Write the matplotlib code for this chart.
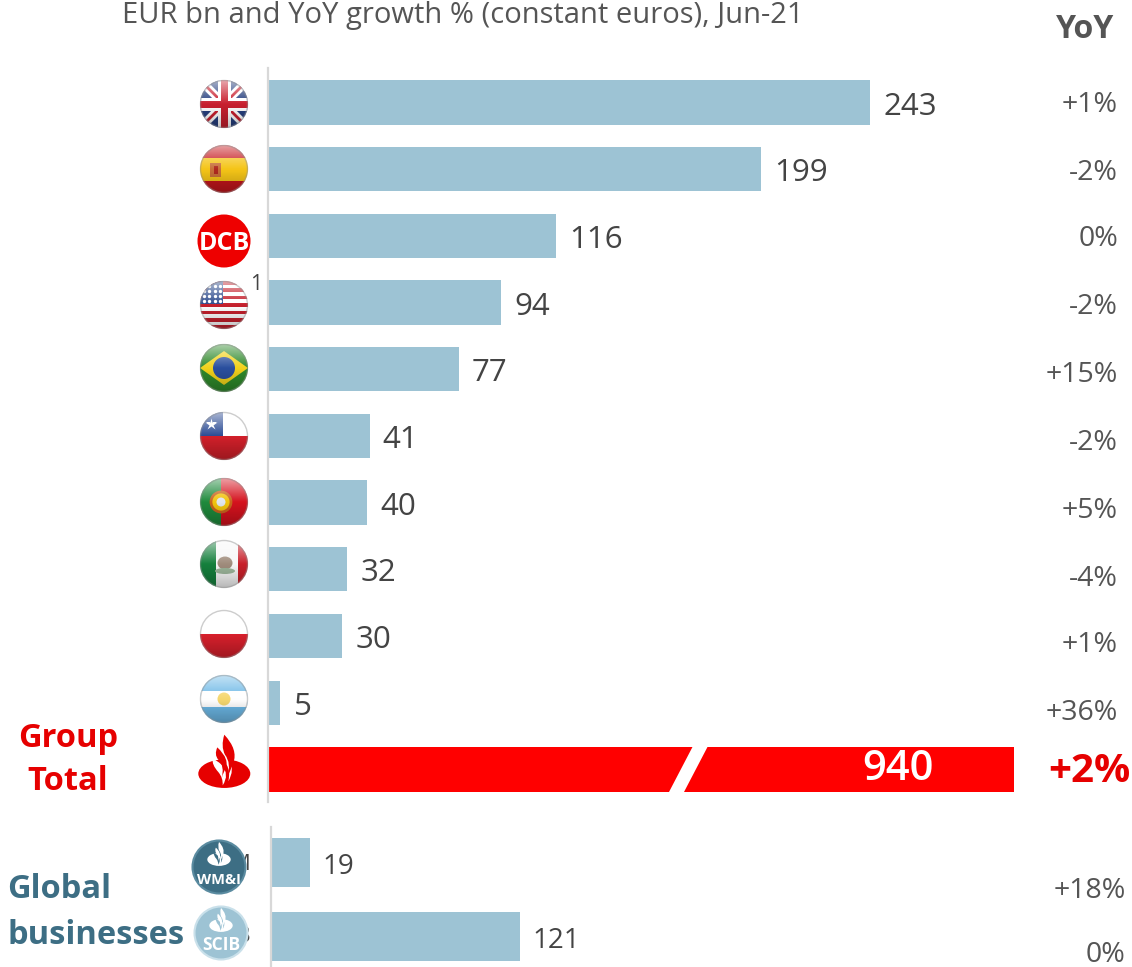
import numpy as np
import matplotlib
matplotlib.use('Agg')
import matplotlib.pyplot as plt
from matplotlib.patches import Circle, Ellipse, Polygon, Rectangle, PathPatch
from matplotlib.path import Path

W, H = 1132, 967

# Loan book by unit, EUR bn.
COUNTRY_VALUES = [243, 199, 116, 94, 77, 41, 40, 32, 30, 5]
COUNTRY_YOY = ['+1%', '-2%', '0%', '-2%', '+15%', '-2%', '+5%', '-4%', '+1%', '+36%']
TOTAL_VALUE = 940
TOTAL_YOY = '+2%'
GLOBAL_VALUES = [19, 121]
GLOBAL_YOY = ['+18%', '0%']

BLUE = '#9dc3d4'
RED = '#ff0000'
DARK_RED = '#e60000'
TEAL = '#3d6e84'
TEXT = '#444444'
GREY = '#d8d8d8'

plt.rcParams['font.family'] = ['Open Sans', 'DejaVu Sans']

fig = plt.figure(figsize=(W / 100, H / 100), dpi=100)


def px_axes(left, top, right, bottom):
    return fig.add_axes([left / W, 1 - bottom / H, (right - left) / W, (bottom - top) / H])


def style_bars(ax):
    for side in ['top', 'right', 'bottom']:
        ax.spines[side].set_visible(False)
    ax.spines['left'].set_color(GREY)
    ax.spines['left'].set_linewidth(1.6)
    ax.set_xticks([])
    ax.set_yticks([])
    ax.patch.set_alpha(0)


# Country bars plus the group total, which runs off the end of the scale.
ax = px_axes(268, 68, 1014, 802)
ax.set_xlim(0, 746 / 2.479)
ax.set_ylim((802 - 102.4) / 66.7, (68 - 102.4) / 66.7)
rows = np.arange(len(COUNTRY_VALUES))
ax.barh(rows, COUNTRY_VALUES, height=0.665, color=BLUE)
ax.barh([len(COUNTRY_VALUES)], [TOTAL_VALUE], height=0.665, color=RED)
style_bars(ax)
for r, v in zip(rows, COUNTRY_VALUES):
    ax.annotate(str(v), (v, r), xytext=(9.5, -3), textcoords='offset points',
                va='center', ha='left', fontsize=22.5, color=TEXT)

# Global businesses use their own, slightly tighter scale.
ax2 = px_axes(271, 827, 1014, 967)
ax2.set_xlim(0, 743 / 2.06)
ax2.set_ylim((967 - 862.5) / 74, (827 - 862.5) / 74)
ax2.barh([0, 1], GLOBAL_VALUES, height=0.665, color=BLUE)
style_bars(ax2)
for r, v in zip([0, 1], GLOBAL_VALUES):
    ax2.annotate(str(v), (v, r), xytext=(8.5, -3), textcoords='offset points',
                 va='center', ha='left', fontsize=20, color=TEXT)

# Overlay in pixel units for the icons and surrounding text.
ov = fig.add_axes([0, 0, 1, 1], zorder=5)
ov.set_xlim(0, W)
ov.set_ylim(H, 0)
ov.axis('off')
ov.patch.set_alpha(0)

# Gradient for the glass effect on the round flags.
gy = np.linspace(0, 1, 64)
gloss = np.zeros((64, 1, 4))
gloss[:, 0, :3] = np.where(gy[:, None] < 0.5, 1.0, 0.0)
gloss[:, 0, 3] = np.where(gy < 0.5, 0.6 * (1 - gy / 0.5), 0.26 * (gy - 0.5) / 0.5)


def flag(cx, cy, draw, r=24):
    clip = Circle((cx, cy), r, transform=ov.transData)
    before = set(ov.get_children())
    draw(cx, cy, r)
    for art in set(ov.get_children()) - before:
        art.set_clip_path(clip)
    im = ov.imshow(gloss, extent=(cx - r, cx + r, cy + r, cy - r), aspect='auto',
                   zorder=3, interpolation='bilinear')
    im.set_clip_path(clip)
    ov.add_patch(Circle((cx, cy), r - 0.5, fill=False, ec='#909090', lw=1.0, alpha=0.45, zorder=4))


def band(x0, y0, x1, y1, color, z=2):
    ov.add_patch(Rectangle((x0, y0), x1 - x0, y1 - y0, fc=color, ec='none', zorder=z))


def uk(cx, cy, r):
    band(cx - r, cy - r, cx + r, cy + r, '#27407f')
    for sx in (-1, 1):
        ov.plot([cx - r * sx, cx + r * sx], [cy - r, cy + r], color='white', lw=6, zorder=2)
        ov.plot([cx - r * sx, cx + r * sx], [cy - r, cy + r], color='#c8202f', lw=2, zorder=2)
    band(cx - r, cy - 6.5, cx + r, cy + 6.5, 'white')
    band(cx - 6.5, cy - r, cx + 6.5, cy + r, 'white')
    band(cx - r, cy - 3.5, cx + r, cy + 3.5, '#c8202f')
    band(cx - 3.5, cy - r, cx + 3.5, cy + r, '#c8202f')


def spain(cx, cy, r):
    band(cx - r, cy - r, cx + r, cy - 11, '#c4161c')
    band(cx - r, cy - 11, cx + r, cy + 12, '#f5c518')
    band(cx - r, cy + 12, cx + r, cy + r, '#c4161c')
    band(cx - 14, cy - 6, cx - 3, cy + 8, '#c8703a')
    band(cx - 10, cy - 3, cx - 6, cy + 5, '#b02a20')


def usa(cx, cy, r):
    band(cx - r, cy - r, cx + r, cy + r, 'white')
    for k in range(0, 7):
        band(cx - r, cy - r + k * 7.4, cx + r, cy - r + k * 7.4 + 3.7, '#c5202c')
    band(cx - r, cy - r, cx - 1, cy - 1, '#2c4a8c')
    for i in range(4):
        for j in range(4):
            ov.plot(cx - 20 + i * 5.4, cy - 19 + j * 5, 'o', ms=1.4, color='white', zorder=2)


def brazil(cx, cy, r):
    band(cx - r, cy - r, cx + r, cy + r, '#2f8a2b')
    ov.add_patch(Polygon([(cx - r, cy), (cx, cy - 17), (cx + r, cy), (cx, cy + 17)],
                         fc='#f2d21b', ec='none', zorder=2))
    ov.add_patch(Circle((cx, cy), 11, fc='#2a4f9e', ec='none', zorder=2))


def chile(cx, cy, r):
    band(cx - r, cy - r, cx + r, cy, 'white')
    band(cx - r, cy, cx + r, cy + r, '#d2202a')
    band(cx - r, cy - r, cx - 1, cy, '#2b4b94')
    ov.plot(cx - 13, cy - 12, '*', ms=9, color='white', mec='none', zorder=2)


def portugal(cx, cy, r):
    band(cx - r, cy - r, cx - 3, cy + r, '#1f8a3c')
    band(cx - 3, cy - r, cx + r, cy + r, '#d5121e')
    ov.add_patch(Circle((cx - 3, cy), 10, fc='#f1c40f', ec='#c8641e', lw=2, zorder=2))
    ov.add_patch(Circle((cx - 3, cy), 4.5, fc='#dfe6f0', ec='none', zorder=2))


def mexico(cx, cy, r):
    band(cx - r, cy - r, cx - 8, cy + r, '#15803d')
    band(cx - 8, cy - r, cx + 14, cy + r, '#f7f7f7')
    band(cx + 14, cy - r, cx + r, cy + r, '#c8202a')
    ov.add_patch(Ellipse((cx + 1, cy - 1), 15, 13, fc='#a08c7c', ec='none', zorder=2))
    ov.add_patch(Ellipse((cx + 1, cy + 7), 20, 6, fc='#9cb59a', ec='none', zorder=2))


def poland(cx, cy, r):
    band(cx - r, cy - r, cx + r, cy, 'white')
    band(cx - r, cy, cx + r, cy + r, '#d8202c')


def argentina(cx, cy, r):
    band(cx - r, cy - r, cx + r, cy + r, '#6cb8e6')
    band(cx - r, cy - 8, cx + r, cy + 8, 'white')
    ov.add_patch(Circle((cx, cy), 6.5, fc='#f5d76e', ec='none', zorder=2))


flag(224, 104, uk)
flag(224, 169, spain)
flag(224, 305, usa)
flag(224, 368, brazil)
flag(224, 436, chile)
flag(224, 502, portugal)
flag(224, 564, mexico)
flag(224, 634, poland)
flag(224, 699, argentina)

# DCB badge.
ov.add_patch(Circle((224, 241), 26.5, fc='#ee0000', ec='none', zorder=2))
ov.text(224, 243.5, 'DCB', color='white', fontsize=18, fontweight='bold', ha='center', va='center', zorder=3)
ov.text(256.5, 284, '1', color=TEXT, fontsize=15, ha='center', va='center')

# Flame emblem outlines, in units of a third of a pixel around the base centre.
CURVE = [Path.MOVETO] + [Path.CURVE3] * 8
TONGUE_A = [(0, -117), (42, -72), (27, -32), (19, -12), (9, 13), (22, -32), (2, -57), (-11, -82), (0, -117)]
TONGUE_B = [(-21, -79), (19, -42), (2, -12), (-5, 3), (-8, 13), (2, -22), (-18, -42), (-31, -57), (-21, -79)]
GAP_A = [(-35, -45), (-38, -27), (-18, -5), (-3, 13), (-5, 35), (17, 3), (-8, -27), (-25, -42), (-35, -45)]
GAP_B = [(-8, -67), (-13, -47), (7, -27), (19, -7), (12, 23), (32, -12), (15, -39), (-3, -57), (-8, -67)]


def emblem(cx, cy, s, color, back):
    ov.add_patch(Ellipse((cx, cy), 52 * s, 28.5 * s, fc=color, ec='none', zorder=6))
    for outline, fill, z in [(GAP_A, back, 7), (GAP_B, back, 7), (TONGUE_A, color, 8), (TONGUE_B, color, 8)]:
        pts = [(cx + x / 3 * s, cy + y / 3 * s) for x, y in outline]
        ov.add_patch(PathPatch(Path(pts, CURVE), fc=fill, ec='none', zorder=z))


emblem(224.3, 773.7, 1.0, '#e60000', 'white')

# Names partly hidden behind the global business badges.
ov.text(250.5, 865, 'M', color=TEXT, fontsize=15, ha='right', va='center', zorder=1)
ov.text(250.5, 936, 'B', color=TEXT, fontsize=15, ha='right', va='center', zorder=1)


def badge(cx, cy, r, fill, edge, label, size, label_y):
    ov.add_patch(Circle((cx, cy), r, fc=fill, ec=edge, lw=1.5, zorder=5))
    emblem(cx, cy - 7.5, 0.45, 'white', fill)
    ov.text(cx, label_y, label, color='white', fontsize=size, fontweight='bold',
            ha='center', va='center', zorder=9)


badge(219, 867, 26.5, TEAL, '#5a8ba0', 'WM&I', 10.5, 880)
badge(221, 933, 26.5, '#9dc3d4', '#c9e0ea', 'SCIB', 12.5, 945.5)

# White slash marking the broken total bar.
ov.add_patch(Polygon([(693, 746), (708, 746), (684, 792), (669, 792)], fc='white', ec='none', zorder=3))

# Section labels.
ov.text(68, 738.5, 'Group', color=DARK_RED, fontsize=23.5, fontweight='bold', ha='center', va='center')
ov.text(68, 781, 'Total', color=DARK_RED, fontsize=23.5, fontweight='bold', ha='center', va='center')
ov.text(7, 890, 'Global', color=TEAL, fontsize=23.5, fontweight='bold', ha='left', va='center')
ov.text(7, 935, 'businesses', color=TEAL, fontsize=23.5, fontweight='bold', ha='left', va='center')

# Header.
ov.text(122, 15.5, 'EUR bn and YoY growth % (constant euros), Jun-21', color='#555555',
        fontsize=21, ha='left', va='center')
ov.text(1085, 29, 'YoY', color='#555555', fontsize=23, fontweight='bold', ha='center', va='center')

# Year on year column.
yoy_y = [105.5, 173.5, 239.5, 307.5, 375.5, 442.5, 510.5, 578.5, 645.5, 713.5]
for y, s in zip(yoy_y, COUNTRY_YOY):
    ov.text(1118, y, s, color='#555555', fontsize=20.5, ha='right', va='center')
ov.text(1130, 771, TOTAL_YOY, color=DARK_RED, fontsize=29, fontweight='bold', ha='right', va='center')
for y, s in zip([890.5, 955.5], GLOBAL_YOY):
    ov.text(1125.5, y, s, color='#555555', fontsize=20.5, ha='right', va='center')

ov.text(934, 769, str(TOTAL_VALUE), color='white', fontsize=30, fontweight='semibold', ha='right', va='center', zorder=4)

ov.set_xlim(0, W)
ov.set_ylim(H, 0)
fig.savefig('out.png', dpi=100)
